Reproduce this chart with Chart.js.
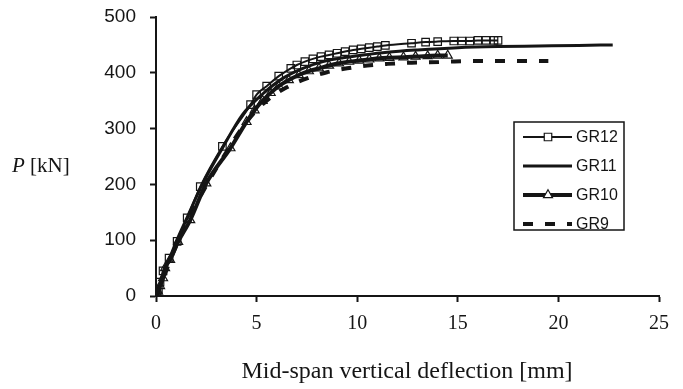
<!DOCTYPE html>
<html>
<head>
<meta charset="utf-8">
<title>Load - deflection</title>
<script src="https://cdn.jsdelivr.net/npm/chart.js"></script>
<style>
  html, body { margin: 0; padding: 0; background: #fff; }
  #wrap { width: 683px; height: 389px; }
</style>
</head>
<body>
<div id="wrap"><canvas id="plot" width="683" height="389"></canvas></div>
<script>
// values: mid-span deflection [mm] and load P [kN]
const xTicks = [0, 5, 10, 15, 20, 25];
const yTicks = [0, 100, 200, 300, 400, 500];

const gr12Defl = [0, 0.05, 0.12, 0.2, 0.35, 0.65, 1.05, 1.55, 2.2, 3.3, 4.7, 5.0, 5.5, 6.1, 6.7, 7.0, 7.4, 7.8, 8.2, 8.6, 9.0, 9.4, 9.8, 10.2, 10.6, 11.0, 11.4, 12.7, 13.4, 14.0, 14.8, 15.2, 15.6, 16.0, 16.4, 16.8, 17.0];
const gr12Load = [0, 5, 12, 25, 45, 68, 98, 140, 196, 268, 343, 361, 376, 394, 408, 414, 420, 425, 429, 432, 435, 438, 441, 443, 445, 447, 449, 453, 455, 456, 457, 457, 457, 458, 458, 458, 458];

const gr11Defl = [0, 0.2, 0.5, 1.0, 1.6, 2.3, 3.3, 4.3, 5.3, 6.3, 7.3, 8.3, 9.3, 10.3, 11.5, 13, 15, 17, 19, 21, 22.7];
const gr11Load = [0, 20, 50, 97, 145, 200, 265, 325, 362, 390, 408, 420, 427, 432, 437, 441, 445, 447, 448, 449, 450];

const gr10Defl = [0, 0.1, 0.2, 0.35, 0.45, 0.7, 1.1, 1.7, 2.5, 3.7, 4.5, 4.9, 5.3, 5.7, 6.1, 6.6, 7.1, 7.6, 8.1, 8.6, 9.1, 9.6, 10.1, 10.6, 11.1, 11.6, 12.3, 12.9, 13.5, 14.0, 14.5];
const gr10Load = [0, 8, 18, 32, 50, 65, 97, 136, 202, 265, 312, 333, 350, 364, 376, 387, 396, 403, 408, 413, 417, 420, 422, 424, 426, 427, 428, 429, 430, 431, 431];

const gr9Defl = [0, 0.2, 0.5, 1.0, 1.6, 2.3, 3.5, 4.5, 5.5, 6.5, 7.5, 8.5, 9.5, 10.5, 11.5, 12.5, 13.5, 14.5, 15.5, 16.5, 17.5, 18.5, 19.5];
const gr9Load = [0, 18, 45, 90, 135, 185, 258, 312, 350, 374, 390, 401, 408, 413, 416, 418, 419, 420, 421, 421, 421, 421, 421];

const ink = '#151515';

function pairs(xs, ys) {
    return xs.map((x, i) => ({ x: x, y: ys[i] }));
}

// legend box inside the plot, drawn by hand like the original
const boxLegend = {
    id: 'boxLegend',
    afterDraw(chart) {
        const ctx = chart.ctx;
        const left = 514, top = 122, w = 110, h = 108;
        ctx.save();
        ctx.strokeStyle = ink;
        ctx.lineWidth = 1.5;
        ctx.strokeRect(left, top, w, h);
        ctx.font = '16px "Liberation Sans", Arial, sans-serif';
        ctx.textBaseline = 'middle';
        chart.data.datasets.forEach((ds, i) => {
            const y = 137 + i * 29;
            ctx.strokeStyle = ink;
            ctx.lineWidth = ds.borderWidth;
            ctx.setLineDash(ds.borderDash || []);
            ctx.beginPath();
            ctx.moveTo(523, y);
            ctx.lineTo(572, y);
            ctx.stroke();
            ctx.setLineDash([]);
            if (ds.pointRadius > 0) {
                const r = ds.pointRadius;
                ctx.lineWidth = ds.pointBorderWidth;
                ctx.fillStyle = '#fff';
                ctx.beginPath();
                if (ds.pointStyle === 'rect') {
                    const s = r * Math.SQRT1_2;
                    ctx.rect(548 - s, y - s, 2 * s, 2 * s);
                } else {
                    ctx.moveTo(548, y - r);
                    ctx.lineTo(548 + r * 0.866, y + r * 0.5);
                    ctx.lineTo(548 - r * 0.866, y + r * 0.5);
                    ctx.closePath();
                }
                ctx.fill();
                ctx.stroke();
            }
            ctx.fillStyle = ink;
            ctx.fillText(ds.label, 576, y + 1);
        });
        ctx.restore();
    }
};

// axis titles: the y title is horizontal with an italic P
const axisTitles = {
    id: 'axisTitles',
    afterDraw(chart) {
        const ctx = chart.ctx;
        ctx.save();
        ctx.fillStyle = ink;
        ctx.textBaseline = 'middle';
        ctx.font = 'italic 21px "Liberation Serif", "Times New Roman", serif';
        ctx.fillText('P', 12, 166);
        const pw = ctx.measureText('P').width;
        ctx.font = '21px "Liberation Serif", "Times New Roman", serif';
        ctx.fillText(' [kN]', 12 + pw, 166);
        ctx.textAlign = 'center';
        ctx.font = '24px "Liberation Serif", "Times New Roman", serif';
        ctx.fillText('Mid-span vertical deflection [mm]', 407, 372);
        ctx.restore();
    }
};

new Chart(document.getElementById('plot'), {
    type: 'scatter',
    data: {
        datasets: [
            {
                label: 'GR12',
                data: pairs(gr12Defl, gr12Load),
                showLine: true,
                borderColor: ink,
                borderWidth: 2,
                pointStyle: 'rect',
                pointRadius: 5.3,
                pointBorderWidth: 1.2,
                pointBorderColor: ink,
                pointBackgroundColor: 'rgba(255,255,255,0)',
                cubicInterpolationMode: 'monotone'
            },
            {
                label: 'GR11',
                data: pairs(gr11Defl, gr11Load),
                showLine: true,
                borderColor: ink,
                borderWidth: 3,
                pointRadius: 0,
                cubicInterpolationMode: 'monotone'
            },
            {
                label: 'GR10',
                data: pairs(gr10Defl, gr10Load),
                showLine: true,
                borderColor: ink,
                borderWidth: 4,
                pointStyle: 'triangle',
                pointRadius: 5.2,
                pointBorderWidth: 1.2,
                pointBorderColor: ink,
                pointBackgroundColor: 'rgba(255,255,255,0)',
                cubicInterpolationMode: 'monotone'
            },
            {
                label: 'GR9',
                data: pairs(gr9Defl, gr9Load),
                showLine: true,
                borderColor: ink,
                borderWidth: 4,
                borderDash: [10, 12],
                pointRadius: 0,
                cubicInterpolationMode: 'monotone'
            }
        ]
    },
    options: {
        responsive: false,
        animation: false,
        layout: { padding: { left: 0, right: 24, top: 17, bottom: 0 } },
        plugins: {
            legend: { display: false },
            tooltip: { enabled: false }
        },
        scales: {
            x: {
                type: 'linear',
                min: xTicks[0],
                max: xTicks[xTicks.length - 1],
                afterBuildTicks: (s) => { s.ticks = xTicks.map(v => ({ value: v })); },
                afterFit: (s) => { s.height = 93; s.paddingLeft = 0; s.paddingRight = 0; },
                border: { display: true, color: ink, width: 2 },
                grid: { display: true, drawOnChartArea: false, drawTicks: true, tickLength: 6, tickWidth: 2, tickColor: ink },
                ticks: {
                    color: ink,
                    padding: 10,
                    font: { family: '"Liberation Serif", "Times New Roman", serif', size: 20 }
                }
            },
            y: {
                type: 'linear',
                min: yTicks[0],
                max: yTicks[yTicks.length - 1],
                afterBuildTicks: (s) => { s.ticks = yTicks.map(v => ({ value: v })); },
                afterFit: (s) => { s.width = 156; s.paddingTop = 0; s.paddingBottom = 0; },
                border: { display: true, color: ink, width: 2 },
                grid: { display: true, drawOnChartArea: false, drawTicks: true, tickLength: 6, tickWidth: 2, tickColor: ink },
                ticks: {
                    color: ink,
                    padding: 14,
                    font: { family: '"Liberation Sans", Arial, sans-serif', size: 19 }
                }
            }
        }
    },
    plugins: [boxLegend, axisTitles]
});
</script>
</body>
</html>
